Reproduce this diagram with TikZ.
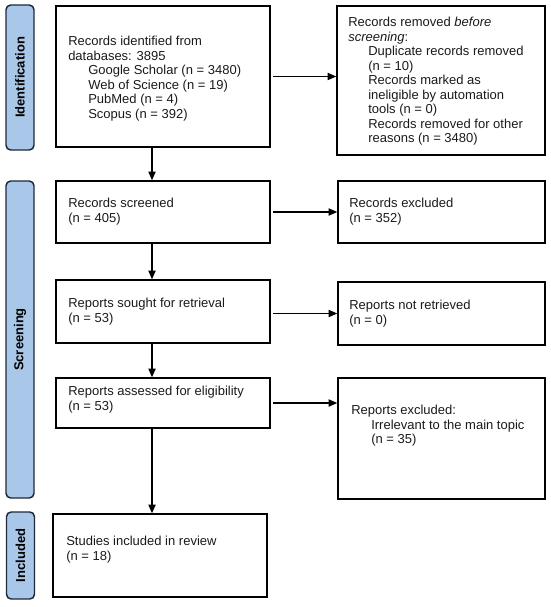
\documentclass[tikz,border=0pt]{standalone}
\usepackage{fontspec}
\setmainfont{Liberation Sans}
\usetikzlibrary{arrows.meta,calc}
\definecolor{sidefill}{HTML}{A9C7E9}
\definecolor{sidedraw}{HTML}{1E2A38}
\definecolor{txt}{HTML}{1A1A1A}
\begin{document}
\begin{tikzpicture}[x=0.75pt,y=-0.75pt,
  box/.style={draw=black,line width=1.2pt,inner sep=0pt},
  side/.style={draw=sidedraw,fill=sidefill,line width=1.1pt,rounded corners=3.5pt,
    inner sep=0pt,rotate=90,minimum height=28*0.75pt,
    font=\fontsize{9.75pt}{11pt}\selectfont\bfseries,text=black},
  tx/.style={anchor=north west,inner sep=0pt,align=left,
    font=\fontsize{9.75pt}{10.9pt}\selectfont,text=txt,
    execute at begin node={\rule{0pt}{7.5pt}}},
  arr/.style={line width=0.8pt,-{Triangle[length=6.5pt,width=5.5pt]}}]
\useasboundingbox (0,0) rectangle (550,607);

% stage labels
\node[side,minimum width=145*0.75pt] (sid) at (20,77.5) {Identification};
\node[side,minimum width=317*0.75pt] (sscr) at (20,339.5) {Screening};
\node[side,minimum width=87*0.75pt] (sinc) at (20.5,555.5) {Included};

% boxes
\node[box,minimum width=214*0.75pt,minimum height=141*0.75pt] (ident) at (163,76.5) {};
\node[box,minimum width=208*0.75pt,minimum height=149*0.75pt] (removed) at (441,80.5) {};
\node[box,minimum width=214*0.75pt,minimum height=62*0.75pt] (screened) at (163,212) {};
\node[box,minimum width=207*0.75pt,minimum height=62*0.75pt] (excluded) at (441.5,212) {};
\node[box,minimum width=214*0.75pt,minimum height=63*0.75pt] (sought) at (163,311.5) {};
\node[box,minimum width=207*0.75pt,minimum height=63*0.75pt] (notret) at (441.5,313.5) {};
\node[box,minimum width=214*0.75pt,minimum height=50*0.75pt] (assessed) at (163,403) {};
\node[box,minimum width=207*0.75pt,minimum height=121*0.75pt] (rexcl) at (441.5,438.5) {};
\node[box,minimum width=214*0.75pt,minimum height=83*0.75pt] (studies) at (160,555.5) {};

% texts (positions: first baseline minus 10px)
\node[tx] (identt) at (68,36) {Records identified from\\databases: 3895\\
  \hspace*{15pt}Google Scholar (n = 3480)\\
  \hspace*{15pt}Web of Science (n = 19)\\
  \hspace*{15pt}PubMed (n = 4)\\
  \hspace*{15pt}Scopus (n = 392)};
\node[tx] (removedt) at (348,17) {Records removed \textit{before}\\\textit{screening}:\\
  \hspace*{15pt}Duplicate records removed\\
  \hspace*{15pt}(n = 10)\\
  \hspace*{15pt}Records marked as\\
  \hspace*{15pt}ineligible by automation\\
  \hspace*{15pt}tools (n = 0)\\
  \hspace*{15pt}Records removed for other\\
  \hspace*{15pt}reasons (n = 3480)};
\node[tx] (screenedt) at (68,198) {Records screened\\(n = 405)};
\node[tx] (excludedt) at (349,198) {Records excluded\\(n = 352)};
\node[tx] (soughtt) at (68,298) {Reports sought for retrieval\\(n = 53)};
\node[tx] (notrett) at (349,300) {Reports not retrieved\\(n = 0)};
\node[tx] (assessedt) at (68,386) {Reports assessed for eligibility\\(n = 53)};
\node[tx] (rexclt) at (351,405) {Reports excluded:\\
  \hspace*{15pt}Irrelevant to the main topic\\
  \hspace*{15pt}(n = 35)};
\node[tx] (studiest) at (66,536) {Studies included in review\\(n = 18)};

% connectors
\coordinate (vx) at (152,0);
\draw[arr] (ident.south -| vx) -- (screened.north -| vx);
\draw[arr] (screened.south -| vx) -- (sought.north -| vx);
\draw[arr] (sought.south -| vx) -- (assessed.north -| vx);
\draw[arr] (assessed.south -| vx) -- (studies.north -| vx);
\draw[arr,shorten <=2pt] (ident.east) -- (ident.east -| removed.west);
\draw[arr,shorten <=2pt] (screened.east) -- (screened.east -| excluded.west);
\draw[arr,shorten <=2pt] (notret.west -| sought.east) -- (notret.west);
\draw[arr,shorten <=2pt] (assessed.east) -- (assessed.east -| rexcl.west);
\end{tikzpicture}
\end{document}
